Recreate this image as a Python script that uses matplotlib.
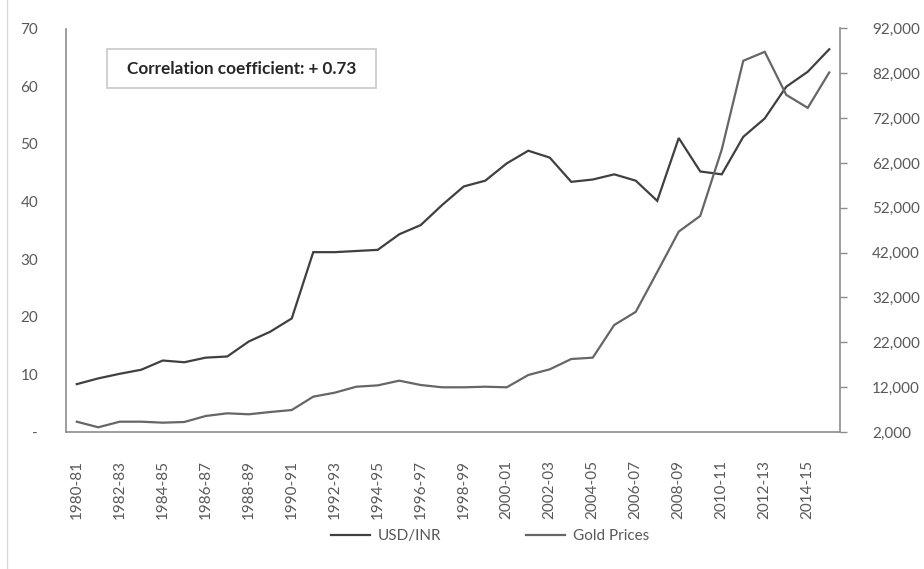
import matplotlib
matplotlib.use("Agg")
import matplotlib.pyplot as plt
from matplotlib.lines import Line2D
from matplotlib.patches import Rectangle
from matplotlib.ticker import FuncFormatter

years = [f"{y}-{str(y + 1)[-2:]}" for y in range(1980, 2016)]
usd_inr = [8.3, 9.3, 10.1, 10.8, 12.4, 12.1, 12.9, 13.1, 15.7, 17.4, 19.7,
           31.2, 31.2, 31.4, 31.6, 34.3, 35.9, 39.4, 42.6, 43.6, 46.6, 48.8,
           47.6, 43.4, 43.8, 44.7, 43.6, 40.1, 51.0, 45.2, 44.7, 51.2, 54.4,
           59.9, 62.5, 66.4]
gold = [4300, 3050, 4300, 4300, 4080, 4230, 5570, 6170, 5950, 6460, 6900,
        9880, 10770, 12100, 12400, 13450, 12480, 11970, 11970, 12100, 11970,
        14710, 15980, 18280, 18580, 25870, 28800, 37700, 46700, 50200, 65000,
        84800, 86800, 77200, 74300, 82200]
left_ticks = [0, 10, 20, 30, 40, 50, 60, 70]
right_ticks = [2000, 12000, 22000, 32000, 42000, 52000, 62000, 72000, 82000, 92000]

plt.rcParams['font.family'] = ['Lato', 'DejaVu Sans']
txt = '#595959'
spine = '#8c8c8c'

W, H = 924, 569
fig = plt.figure(figsize=(9.24, 5.69), dpi=100)
ax = fig.add_axes([66 / W, 1 - 432 / H, (840 - 66) / W, (432 - 28.5) / H])
ax2 = ax.twinx()

x = list(range(len(years)))
ax.plot(x, usd_inr, color='#404040', lw=1.6, solid_joinstyle='miter')
ax2.plot(x, gold, color='#666666', lw=1.6, solid_joinstyle='miter')

ax.set_xlim(-0.5, len(years) - 0.5)
ax.set_ylim(0, 70)
ax2.set_ylim(2000, 92000)
ax.set_yticks(left_ticks)
ax.yaxis.set_major_formatter(FuncFormatter(lambda v, p: '-' if v == 0 else f"{int(v)}"))
ax2.set_yticks(right_ticks)
ax2.yaxis.set_major_formatter(FuncFormatter(lambda v, p: f"{int(v):,}"))

ax.set_xticks(x[::2])
ax.set_xticklabels(years[::2], rotation=90)

for a in (ax, ax2):
    a.spines['top'].set_visible(False)
    for s in ('left', 'right', 'bottom'):
        a.spines[s].set_color(spine)
        a.spines[s].set_linewidth(1.2)
ax.spines['right'].set_visible(False)
ax2.spines['left'].set_visible(False)
ax2.spines['bottom'].set_visible(False)

ax.tick_params(axis='y', length=0, pad=20, labelsize=11, labelcolor=txt)
ax.tick_params(axis='x', length=0, pad=20, labelsize=11, labelcolor=txt)
ax2.tick_params(axis='y', length=5, width=1, color=spine, pad=18, labelsize=11, labelcolor=txt)

# correlation box
bx0, bx1, by0, by1 = 107, 376, 49, 88
fig.add_artist(Rectangle((bx0 / W, 1 - by1 / H), (bx1 - bx0) / W, (by1 - by0) / H,
                         transform=fig.transFigure, fc='white', ec='#c8c8c8', lw=1.2, zorder=5))
fig.text((bx0 + bx1) / 2 / W, 1 - (by0 + by1) / 2 / H, 'Correlation coefficient: + 0.73',
         ha='center', va='center', fontsize=12.3, fontweight='bold', color='#262626', zorder=6)

handles = [Line2D([], [], color='#404040', lw=1.6), Line2D([], [], color='#666666', lw=1.6)]
fig.legend(handles, ['USD/INR', 'Gold Prices'], loc='center', bbox_to_anchor=(490 / W, 1 - 536 / H),
           ncol=2, frameon=False, fontsize=11, labelcolor=txt, handlelength=2.6,
           columnspacing=5.5, handletextpad=0.5)

fig.add_artist(Line2D([7 / W, 7 / W], [0, 1], transform=fig.transFigure, color='#d9d9d9', lw=1))

fig.savefig('out.png', dpi=100, facecolor='white')
